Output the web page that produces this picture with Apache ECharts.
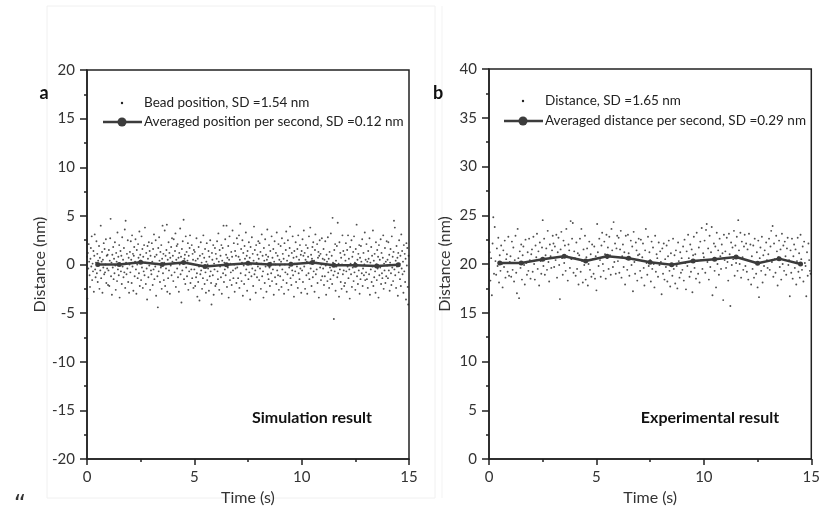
<!DOCTYPE html>
<html>
<head>
<meta charset="utf-8">
<script src="https://cdn.jsdelivr.net/npm/echarts@6/dist/echarts.min.js"></script>
<style>html,body{margin:0;padding:0;background:#fff}#c{width:823px;height:511px}</style>
</head>
<body>
<div id="c"></div>
<script>
// ---------- data ----------
const simRate = 50; // samples per second (panel a)
const simBead = [
0.8,-3.5,1.2,-0.4,2.1,0.3,-1.1,-2.3,0.6,1.7,-0.2,2.9,-1.6,0.1,-0.7,1.4,-2.8,0.9,3.1,-0.5,-1.3,0.2,2.4,-0.9,1.1,-1.8,0.4,-0.1,1.9,-2.5,0.7,-0.6,4.0,-1.4,0.3,1.3,-2.9,0.5,-0.3,2.2,-1.0,1.6,-0.8,0.0,2.6,-1.9,0.9,-0.4,1.0,-2.1,
-0.6,1.5,-2.2,0.4,2.7,4.7,-1.2,0.2,-3.1,1.0,-0.3,1.8,-1.5,0.6,-0.9,2.3,-0.1,-2.6,1.2,0.3,-1.7,3.3,-0.5,0.8,-1.1,2.0,-3.4,0.1,1.4,-0.7,0.9,-2.0,2.8,-0.2,0.5,-1.3,1.7,-0.8,3.6,-2.4,4.5,0.2,-1.0,1.1,-0.4,2.5,-1.8,0.7,-2.9,0.0,
1.3,-0.8,2.4,0.5,-1.9,3.0,-0.2,1.1,-2.7,0.9,1.8,-1.2,0.3,2.6,-0.5,-3.0,1.5,0.0,-1.4,2.1,0.7,-0.9,3.4,-2.2,1.0,0.4,-1.6,2.9,-0.3,1.6,-2.4,0.8,-0.7,2.0,-1.1,3.8,0.2,-2.0,1.2,-0.4,-3.6,1.9,0.6,-1.3,2.3,-0.1,1.4,-2.6,0.9,-0.6,
-1.0,2.2,0.3,-2.1,1.6,-0.5,3.1,-1.5,0.8,-0.2,2.5,-3.2,1.0,0.1,-1.2,-4.4,1.7,-0.7,2.8,0.4,-1.8,1.3,-0.3,2.0,-2.5,0.6,4.0,-0.9,1.1,-1.6,0.2,3.5,-2.2,0.9,-0.4,1.5,4.1,-2.8,0.5,-1.4,2.3,-0.6,1.2,-3.0,0.7,-0.1,1.8,-1.1,2.7,0.3,
0.9,-1.7,2.6,0.2,-0.8,1.4,3.2,-2.3,0.5,1.9,-0.4,2.1,-1.3,0.7,-2.8,1.2,0.0,3.7,-1.0,0.8,-3.9,1.6,-0.6,2.4,0.3,4.6,-1.5,0.6,1.0,-2.0,2.9,-0.3,1.3,-1.2,0.4,2.2,-2.6,0.9,-0.7,1.7,3.0,-1.9,0.1,-0.5,2.0,-1.4,1.1,0.5,-2.4,1.5,
-0.5,1.3,-2.2,0.4,-1.3,2.7,-0.9,-3.3,0.6,-1.8,1.8,-0.2,-3.7,0.9,-1.0,2.3,-0.6,0.2,-2.5,1.1,-1.4,3.0,-0.3,0.7,-2.0,1.6,-0.8,-2.9,0.3,2.2,-1.6,0.0,-0.4,1.4,-2.7,0.8,-1.2,2.5,-0.7,-1.9,-4.1,1.2,0.5,-1.1,2.0,-3.1,0.1,-0.5,1.7,-2.2,
1.1,-2.0,0.6,2.4,-0.7,-1.5,3.2,0.3,-2.6,1.5,-0.2,0.9,-1.3,2.0,-3.0,0.4,1.7,-0.9,4.0,-1.8,0.2,-0.5,2.6,-1.1,1.0,4.0,-2.3,0.7,-0.3,1.9,-3.4,0.5,2.9,-1.6,0.1,-0.8,1.3,-2.1,0.8,3.5,-0.6,-1.4,2.2,0.0,-2.8,1.4,-0.4,0.9,-1.9,2.7,
-0.3,2.1,-1.4,0.8,3.0,-2.4,0.5,4.2,-0.9,1.6,-1.7,0.2,2.5,-3.2,1.2,-0.1,-2.0,1.9,0.6,-1.1,3.3,-0.5,0.9,-2.7,1.4,0.3,-1.5,2.3,-0.8,0.7,-3.6,1.8,0.0,-1.2,2.8,-0.4,1.1,-2.2,0.4,3.9,-1.0,1.5,-0.6,-2.9,2.0,0.2,-1.3,1.0,-0.2,2.4,
0.6,-1.6,2.2,-0.4,1.3,-2.5,0.1,3.1,-1.2,0.9,-0.7,-3.4,1.7,0.4,-1.9,2.6,-0.2,1.0,-2.8,0.5,3.6,-1.0,0.8,-1.5,2.0,-0.3,-2.2,1.4,0.2,-0.9,2.9,-1.7,0.7,-0.5,1.6,-3.1,0.3,2.4,-1.3,0.0,1.2,-2.0,3.3,-0.6,0.9,-1.1,2.1,-2.6,0.5,-0.1,
-1.2,1.9,0.3,-2.3,2.7,-0.5,1.1,-1.6,0.6,-3.0,2.2,0.0,-0.8,1.5,3.4,-1.9,0.4,-1.0,2.5,-2.6,0.9,-0.3,1.7,3.9,-1.4,0.2,-2.1,1.2,-0.6,2.9,-1.1,0.7,-3.3,1.4,0.1,-0.7,2.3,-1.8,0.8,-0.2,1.6,-2.4,3.0,-0.9,0.5,-1.5,2.0,-0.4,1.0,-2.9,
1.4,-0.6,2.6,-1.8,0.9,3.5,-0.2,1.2,-2.5,0.5,2.0,-1.1,0.3,-3.0,1.7,0.8,-0.9,2.9,-1.5,0.1,3.8,-0.4,1.0,-2.2,0.6,1.8,-1.3,2.3,-0.7,0.4,-2.8,1.5,3.1,-1.0,0.2,-0.5,2.1,-1.9,0.7,1.3,-3.4,0.9,2.5,-0.3,1.1,-1.6,0.0,2.7,-1.2,0.6,
-0.4,1.6,-2.1,0.5,-1.2,2.4,-0.1,-3.1,1.0,0.3,-1.7,2.8,-0.8,0.6,-2.4,1.3,-0.3,-1.5,3.2,-0.6,0.9,-2.0,4.8,0.2,-1.1,-5.6,1.5,-0.7,2.1,-2.7,0.4,-0.2,1.9,-1.3,4.3,-0.9,0.1,-3.3,2.3,-0.5,1.2,-1.8,0.7,-2.5,0.0,3.0,-1.0,1.4,-0.6,-2.2,
1.0,-1.9,0.4,2.2,-0.7,-2.8,1.5,-0.2,3.0,-1.4,0.6,-0.5,-3.5,1.8,0.1,-1.0,2.5,-2.3,0.8,-0.3,1.3,-1.7,2.9,-0.8,0.2,-2.6,1.6,-0.1,4.1,-1.2,0.5,-2.0,1.1,-0.6,2.0,-3.0,0.7,-1.5,1.9,0.3,-0.9,2.6,-2.2,-0.4,1.2,-1.1,0.0,3.3,-1.6,0.5,
-0.8,2.1,-1.5,0.3,-2.4,1.4,0.6,-1.0,2.7,-3.1,0.2,-0.5,1.8,-1.8,0.9,-0.2,3.5,-2.2,0.4,-1.3,1.1,-0.7,-2.9,2.3,0.0,-1.6,1.5,-0.4,0.8,-3.4,2.0,-1.1,0.5,-0.3,2.6,-2.0,1.2,-0.9,-1.4,0.7,3.0,-2.5,0.1,-0.6,1.7,-1.9,0.3,-1.2,2.4,-0.1,
0.5,-1.4,2.3,-0.6,1.0,-2.7,0.2,1.6,-0.9,-2.1,2.9,-0.3,0.8,-1.7,1.3,4.5,-0.5,3.8,-1.1,0.4,-2.4,1.9,-0.2,0.7,-3.2,1.2,-0.8,2.5,0.1,-1.5,0.9,-2.2,3.1,-0.4,1.4,-1.0,0.3,-2.9,2.0,-0.7,1.1,-1.8,0.6,-3.6,2.2,-0.1,1.7,-2.3,-4.1,0.9
];
const avgTimes = [0.5,1.5,2.5,3.5,4.5,5.5,6.5,7.5,8.5,9.5,10.5,11.5,12.5,13.5,14.5];
const simAvg = [0.0,0.0,0.24,0.0,0.2,-0.2,-0.03,0.14,0.0,0.03,0.2,-0.07,-0.07,-0.14,-0.03];

const expRate = 30; // samples per second (panel b)
const expDist = [
19.5,21.2,18.3,20.6,16.8,22.1,24.8,19.0,23.8,20.3,18.9,21.6,19.8,22.7,18.1,20.9,19.3,21.9,20.0,17.6,21.4,19.7,22.4,18.6,20.5,21.0,19.2,22.8,18.8,20.2,
20.8,18.7,22.3,19.4,21.7,18.2,20.4,22.9,19.1,17.0,23.6,20.6,16.5,21.3,19.6,22.0,18.4,20.9,21.8,19.9,17.9,22.5,20.1,18.9,21.2,19.3,22.6,20.4,18.5,21.0,
21.5,19.2,22.8,20.0,18.4,21.9,20.7,23.1,19.5,21.3,17.8,22.2,20.3,19.0,21.7,24.5,19.8,22.6,18.9,20.9,21.6,19.4,23.4,20.2,18.2,22.0,20.8,19.6,21.4,22.9,
22.1,19.7,21.8,20.4,23.0,18.6,21.2,22.7,19.9,16.4,21.5,23.3,20.6,18.9,22.4,20.1,21.9,19.3,23.6,20.8,18.3,22.0,21.4,19.6,24.4,20.5,22.6,24.2,19.1,21.3,
20.6,18.8,22.2,19.5,21.1,17.9,20.9,22.6,19.2,23.6,20.3,18.1,21.5,19.9,22.9,18.4,20.7,21.6,17.8,20.0,22.3,19.4,21.0,18.7,22.0,20.5,19.0,21.8,18.5,20.8,
17.3,24.1,21.2,19.8,22.6,20.4,18.7,21.9,23.2,20.0,19.3,22.3,21.0,18.5,23.0,20.6,21.7,19.5,22.8,20.9,18.9,23.6,21.4,19.7,24.3,20.2,22.1,19.0,21.6,22.9,
20.3,22.7,19.1,21.5,23.4,18.6,20.8,22.0,19.7,21.2,17.9,22.9,20.5,19.4,23.0,21.1,18.8,20.6,22.4,19.9,21.8,17.2,23.3,20.2,19.0,22.2,21.4,18.3,20.9,22.6,
21.0,19.3,22.5,18.6,20.7,22.1,19.6,17.8,21.4,23.6,20.1,18.9,22.8,19.8,21.2,20.4,18.2,22.3,19.5,21.7,20.0,17.6,22.9,19.2,21.0,20.6,18.7,22.2,19.9,21.3,
20.2,16.9,21.6,19.0,22.1,18.4,20.5,19.7,21.9,18.2,20.8,22.4,19.3,17.7,21.1,20.0,18.8,22.6,19.5,20.9,18.0,21.4,19.8,17.5,22.2,20.3,18.6,21.2,19.1,20.6,
19.4,21.8,18.3,22.5,20.1,17.4,21.3,19.8,23.0,20.6,18.7,22.0,19.2,21.5,17.1,20.9,22.8,19.6,21.0,18.5,23.2,20.3,19.0,21.7,18.1,22.3,20.4,23.7,19.5,21.1,
20.7,22.4,19.1,23.5,24.1,20.2,21.6,18.4,22.9,19.7,21.2,23.8,16.8,20.5,22.1,19.3,21.8,17.6,23.2,20.0,21.4,18.9,22.6,20.8,19.5,22.0,21.1,16.3,23.0,20.4,
21.3,19.6,22.7,20.2,18.3,23.1,21.0,15.7,22.2,19.9,21.7,20.5,23.4,18.8,21.9,20.1,22.8,19.3,24.5,21.4,20.0,23.2,18.6,22.3,20.7,19.4,21.8,23.0,19.8,22.1,
19.2,21.5,18.4,23.1,20.3,22.0,17.9,20.8,19.5,21.9,18.6,22.6,20.1,19.0,21.2,17.6,22.4,16.6,20.6,21.7,19.3,22.8,18.1,20.9,19.8,21.4,18.9,22.2,20.4,19.6,
21.0,22.6,19.4,21.8,23.4,20.2,23.9,18.7,22.1,20.5,19.1,22.9,21.3,17.8,20.7,22.4,19.7,21.5,18.4,23.1,20.0,21.9,19.3,22.3,20.8,18.9,21.6,22.7,19.9,20.4,
16.7,21.4,19.1,22.6,18.5,20.8,22.0,19.6,21.5,17.9,20.3,22.7,19.2,21.1,18.6,23.0,20.5,19.4,21.8,18.2,22.3,20.1,19.8,16.7,21.2,18.8,22.1,20.4,19.3,19.0
];
const expAvg = [20.1,20.1,20.48,20.8,20.3,20.8,20.6,20.17,19.93,20.3,20.48,20.72,20.07,20.55,20.0];

const xTicksMax = 15;
const leftY = {min:-20, max:20};
const rightY = {min:0, max:40};

const nameA1 = 'Bead position, SD =1.54 nm';
const nameA2 = 'Averaged position per second, SD =0.12 nm';
const nameB1 = 'Distance, SD =1.65 nm';
const nameB2 = 'Averaged distance per second, SD =0.29 nm';

// ---------- chart ----------
const FONT = 'Lato';
const AX = '#222';
const chart = echarts.init(document.getElementById('c'), null, {renderer:'canvas'});

function xAxisCfg(gi){
  return {gridIndex:gi, type:'value', min:0, max:xTicksMax, interval:5,
    name:'Time (s)', nameLocation:'middle', nameGap:30,
    nameTextStyle:{fontFamily:FONT, fontSize:16, color:'#333'},
    axisLine:{onZero:false, lineStyle:{color:AX, width:1.5}},
    axisTick:{length:6, lineStyle:{color:AX, width:1.5}},
    minorTick:{show:true, splitNumber:2, length:3, lineStyle:{color:AX, width:1.5}},
    splitLine:{show:false}, minorSplitLine:{show:false},
    axisLabel:{margin:11, fontFamily:FONT, fontSize:15, color:'#333'}};
}
function yAxisCfg(gi, r){
  return {gridIndex:gi, type:'value', min:r.min, max:r.max, interval:5,
    name:'Distance (nm)', nameLocation:'middle', nameGap:36,
    nameTextStyle:{fontFamily:FONT, fontSize:16, color:'#333'},
    axisLine:{onZero:false, lineStyle:{color:AX, width:1.5}},
    axisTick:{length:7, lineStyle:{color:AX, width:1.5}},
    minorTick:{show:true, splitNumber:2, length:3, lineStyle:{color:AX, width:1.5}},
    splitLine:{show:false}, minorSplitLine:{show:false},
    axisLabel:{margin:12, fontFamily:FONT, fontSize:15, color:'#333'}};
}

const simPts = simBead.map((v,i)=>[i/simRate, v]);
const expPts = expDist.map((v,i)=>[i/expRate, v]);
const simAvgPts = avgTimes.map((t,i)=>[t, simAvg[i]]);
const expAvgPts = avgTimes.map((t,i)=>[t, expAvg[i]]);

const lineColor = '#3c3c3c';
function legendGraphics(x0, yRow1, yRow2, t1, t2){
  return [
    {type:'circle', shape:{cx:x0+19, cy:yRow1, r:1.2}, style:{fill:'#222'}},
    {type:'text', x:x0+41, y:yRow1, style:{text:t1, fontFamily:FONT, fontSize:13.5, fill:'#222', verticalAlign:'middle'}},
    {type:'line', shape:{x1:x0, y1:yRow2, x2:x0+39, y2:yRow2}, style:{stroke:lineColor, lineWidth:2.5}},
    {type:'circle', shape:{cx:x0+19, cy:yRow2, r:4.5}, style:{fill:lineColor}},
    {type:'text', x:x0+41, y:yRow2, style:{text:t2, fontFamily:FONT, fontSize:13.5, fill:'#222', verticalAlign:'middle'}}
  ];
}

const option = {
  backgroundColor:'#fff',
  animation:false,
  grid:[
    {left:87, top:70, width:322, height:390, show:true, borderColor:AX, borderWidth:1.5, backgroundColor:'transparent'},
    {left:489, top:69, width:324, height:390, show:true, borderColor:AX, borderWidth:1.5, backgroundColor:'transparent'}
  ],
  xAxis:[xAxisCfg(0), xAxisCfg(1)],
  yAxis:[yAxisCfg(0,leftY), yAxisCfg(1,rightY)],
  series:[
    {name:nameA1, type:'scatter', xAxisIndex:0, yAxisIndex:0, data:simPts, symbol:'circle', symbolSize:1.9,
      itemStyle:{color:'#222'}, silent:true, large:false},
    {name:nameA2, type:'line', xAxisIndex:0, yAxisIndex:0, data:simAvgPts, symbol:'circle', symbolSize:5, showSymbol:true,
      lineStyle:{color:lineColor, width:2.5}, itemStyle:{color:lineColor}, z:5},
    {name:nameB1, type:'scatter', xAxisIndex:1, yAxisIndex:1, data:expPts, symbol:'circle', symbolSize:1.9,
      itemStyle:{color:'#222'}, silent:true},
    {name:nameB2, type:'line', xAxisIndex:1, yAxisIndex:1, data:expAvgPts, symbol:'circle', symbolSize:5, showSymbol:true,
      lineStyle:{color:lineColor, width:2.5}, itemStyle:{color:lineColor}, z:5}
  ],
  graphic:[
    {type:'rect', shape:{x:47, y:6, width:388, height:492}, style:{fill:'none', stroke:'#f0f0f0', lineWidth:1}, z:-10},
    {type:'line', shape:{x1:442, y1:6, x2:442, y2:498}, style:{stroke:'#f3f3f3', lineWidth:1}, z:-10},
    {type:'text', x:44, y:93, style:{text:'a', fontFamily:FONT, fontWeight:'bold', fontSize:18, fill:'#111', align:'center', verticalAlign:'middle'}},
    {type:'text', x:438, y:93, style:{text:'b', fontFamily:FONT, fontWeight:'bold', fontSize:18, fill:'#111', align:'center', verticalAlign:'middle'}},
    {type:'text', x:312, y:418, style:{text:'Simulation result', fontFamily:FONT, fontWeight:'bold', fontSize:16, fill:'#111', align:'center', verticalAlign:'middle'}},
    {type:'text', x:710, y:418, style:{text:'Experimental result', fontFamily:FONT, fontWeight:'bold', fontSize:16, fill:'#111', align:'center', verticalAlign:'middle'}},
    {type:'text', x:20, y:506, style:{text:'\u201C', fontFamily:'DejaVu Sans', fontSize:24, fill:'#333', align:'center', verticalAlign:'middle'}}
  ].concat(legendGraphics(103, 103, 122, nameA1, nameA2))
   .concat(legendGraphics(504, 101, 121, nameB1, nameB2))
};
chart.setOption(option);
</script>
</body>
</html>
